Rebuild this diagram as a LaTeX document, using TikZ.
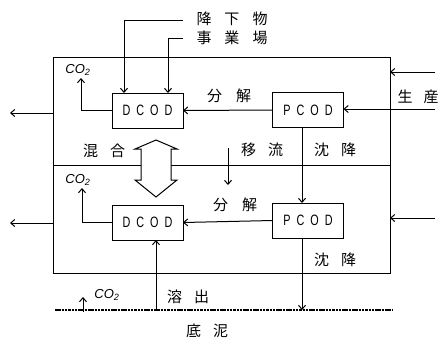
\documentclass[tikz,border=0pt]{standalone}
\usepackage{fontspec}
\newfontfamily\jp{Noto Sans CJK JP}
\newfontfamily\codfont[FakeStretch=0.72]{Liberation Sans}
\newfontfamily\cofont{Liberation Sans}
\usetikzlibrary{arrows.meta,calc}
\begin{document}
\begin{tikzpicture}[x=1pt,y=-1pt,line width=1pt,
  arr/.style={-{Straight Barb[length=4pt,width=7pt]}},
  layer/.style={draw,rectangle,inner sep=0,outer sep=0,minimum width=337pt,minimum height=108pt},
  cod/.style={draw,rectangle,inner sep=0,outer sep=0,minimum width=71pt,minimum height=35pt,font=\codfont\fontsize{15}{15}\selectfont},
  lab/.style={font=\jp\fontsize{15}{15}\selectfont,inner sep=1pt},
  co/.style={font=\cofont\itshape\fontsize{13}{13}\selectfont,inner sep=0}]
\useasboundingbox (0,0) rectangle (443,341);
% layers
\node[layer] (up) at (221.5,111) {};
\node[layer] (lo) at (221.5,219) {};
% boxes
\node[cod] (dU) at (147.5,110.5) {D\hspace{6pt}C\hspace{6pt}O\hspace{6pt}D};
\node[cod] (pU) at (308,110) {P\hspace{6pt}C\hspace{6pt}O\hspace{6pt}D};
\node[cod] (dL) at (147.5,222.5) {D\hspace{6pt}C\hspace{6pt}O\hspace{6pt}D};
\node[cod] (pL) at (308,220.5) {P\hspace{6pt}C\hspace{6pt}O\hspace{6pt}D};
% labels
\node[lab] (kouka) at (232,19) {降\hspace{13pt}下\hspace{13pt}物};
\node[lab] (jigyo) at (232,38) {事\hspace{13pt}業\hspace{13pt}場};
\node[lab] (bunU) at (229,96) {分\hspace{14pt}解};
\node[lab] (bunL) at (235,205) {分\hspace{14pt}解};
\node[lab] (seisan) at (418,97) {生\hspace{11pt}産};
\node[lab] (kongo) at (104,151) {混\hspace{12pt}合};
\node[lab] (iryu) at (262,150) {移\hspace{12pt}流};
\node[lab] (chinU) at (335,150) {沈\hspace{12pt}降};
\node[lab] (chinL) at (335,260) {沈\hspace{12pt}降};
\node[lab] (yoshutsu) at (188,297) {溶\hspace{12pt}出};
\node[lab] (teidei) at (207,331) {底\hspace{12pt}泥};
\node[co] (coU) at (78,70) {CO\textsubscript{2}};
\node[co] (coL) at (78,180) {CO\textsubscript{2}};
\node[co] (coB) at (107,295) {CO\textsubscript{2}};
% coordinates
\coordinate (k1) at (183,20);
\coordinate (j1) at (183,38);
\coordinate (k2) at (124,93);
\coordinate (j2) at (168,93);
\coordinate (outU) at (10,113);
\coordinate (outL) at (10,223);
\coordinate (inU) at (435,72);
\coordinate (inP) at (435,109);
\coordinate (inL) at (435,218);
\coordinate (cbU) at (81,78);
\coordinate (cbL) at (82,188);
\coordinate (sbL) at (55,310);
\coordinate (sbR) at (392,310);
\coordinate (cbB0) at (83,312);
\coordinate (cbB) at (83,297);
\coordinate (iryu0) at (228,148);
\coordinate (iryu1) at (228,185);
\coordinate (s1) at ($(pU.south)+(-6,0)$);
\coordinate (s2) at ($(pL.north)+(-6,0)$);
\coordinate (s3) at ($(pL.south)+(-6,0)$);
\coordinate (e1) at ($(dL.south)+(8.5,0)$);
% seabed
\draw[line width=1.1pt,dash pattern=on 2.5pt off 0.8pt] (sbL) -- (sbR);
% inputs from top
\draw[arr] (k1) -| (k2);
\draw[arr] (j1) -| (j2);
% decomposition
\draw[arr] (pU.west) -- (dU.east);
\draw[arr] (pL.west) -- (dL.east);
% outflows
\draw[arr] (up.west |- outU) -- (outU);
\draw[arr] (lo.west |- outL) -- (outL);
% production inflows
\draw[arr] (inU) -- (up.east |- inU);
\draw[arr] (inP) -- (pU.east |- inP);
\draw[arr] (inL) -- (lo.east |- inL);
% CO2
\draw[arr] (dU.west) -| (cbU);
\draw[arr] (dL.west) -| (cbL);
\draw[arr] (cbB0) -- (cbB);
% advection
\draw[arr] (iryu0) -- (iryu1);
% settling
\draw[arr] (s1) -- (s2);
\draw[arr] (s3) -- (s3 |- sbR);
% elution
\draw[arr] (e1 |- sbL) -- (e1);
% mixing double arrow
\draw[fill=white] (156,140) -- (177,149) -- (171,149) -- (171,180) -- (177,180)
  -- (156,197) -- (135,180) -- (141,180) -- (141,149) -- (135,149) -- cycle;
\end{tikzpicture}
\end{document}
